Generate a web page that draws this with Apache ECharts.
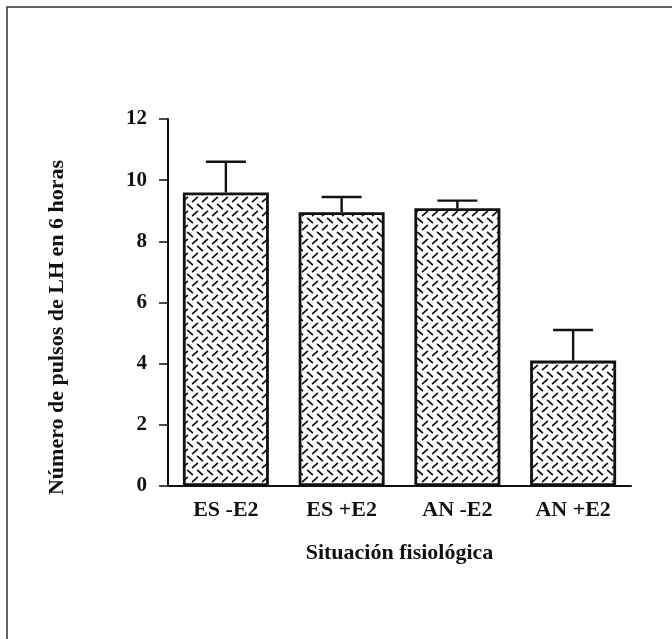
<!DOCTYPE html>
<html>
<head>
<meta charset="utf-8">
<script src="https://cdn.jsdelivr.net/npm/echarts@6/dist/echarts.min.js"></script>
<style>
html,body{margin:0;padding:0;background:#fff;}
#c{width:672px;height:639px;}
</style>
</head>
<body>
<div id="c"></div>
<script>
const categories = ['ES -E2', 'ES +E2', 'AN -E2', 'AN +E2'];
const means = [9.6, 8.95, 9.08, 4.1];
const errTops = [10.6, 9.45, 9.33, 5.1];
const yTicks = [0, 2, 4, 6, 8, 10, 12];

function makePattern() {
  const c = document.createElement('canvas');
  c.width = 20; c.height = 14;
  const g = c.getContext('2d');
  g.fillStyle = '#fff';
  g.fillRect(0, 0, 20, 14);
  g.strokeStyle = '#111';
  g.lineWidth = 1.8;
  g.lineCap = 'round';
  function dash(x, y, dir) {
    g.beginPath();
    if (dir > 0) { g.moveTo(x - 2.4, y + 2.1); g.lineTo(x + 2.4, y - 2.1); }
    else { g.moveTo(x - 2.4, y - 2.1); g.lineTo(x + 2.4, y + 2.1); }
    g.stroke();
  }
  dash(5, 3.5, 1); dash(15, 3.5, 1);
  dash(0, 10.5, -1); dash(10, 10.5, -1); dash(20, 10.5, -1);
  return c;
}

const font = '"Liberation Serif", "DejaVu Serif", serif';
const chart = echarts.init(document.getElementById('c'), null, {renderer: 'canvas'});
chart.setOption({
  backgroundColor: '#fff',
  animation: false,
  graphic: [{
    type: 'rect', shape: {x: 7, y: 7, width: 700, height: 700},
    style: {fill: 'none', stroke: '#333', lineWidth: 1.5}, z: 100
  }],
  grid: {left: 168, right: 41, top: 119, bottom: 153},
  xAxis: {
    type: 'category', data: categories,
    axisLine: {lineStyle: {color: '#111', width: 2}},
    axisTick: {show: false},
    axisLabel: {color: '#111', fontFamily: font, fontWeight: 'bold', fontSize: 22, margin: 13},
    name: 'Situación fisiológica', nameLocation: 'middle', nameGap: 56,
    nameTextStyle: {color: '#111', fontFamily: font, fontWeight: 'bold', fontSize: 22}
  },
  yAxis: {
    type: 'value', min: yTicks[0], max: yTicks[yTicks.length - 1], interval: 2,
    axisLine: {show: true, lineStyle: {color: '#111', width: 2}},
    axisTick: {show: true, length: 9, lineStyle: {color: '#111', width: 1.5}},
    splitLine: {show: false},
    axisLabel: {color: '#111', fontFamily: font, fontWeight: 'bold', fontSize: 21, margin: 21},
    name: 'Número de pulsos de LH en 6 horas', nameLocation: 'middle', nameGap: 100,
    nameTextStyle: {color: '#111', fontFamily: font, fontWeight: 'bold', fontSize: 22, padding: [0, 50, 0, 0]}
  },
  series: [{
    type: 'bar', data: means, barWidth: 86,
    itemStyle: {
      color: {image: makePattern(), repeat: 'repeat'},
      borderColor: '#111', borderWidth: 2.8
    },
    z: 2
  }, {
    type: 'custom',
    data: means.map((m, i) => [i, m, errTops[i]]),
    renderItem: function (params, api) {
      const p0 = api.coord([api.value(0), api.value(1)]);
      const p1 = api.coord([api.value(0), api.value(2)]);
      const hw = 20;
      return {
        type: 'group',
        children: [
          {type: 'line', shape: {x1: p0[0], y1: p0[1], x2: p1[0], y2: p1[1]}, style: {stroke: '#111', lineWidth: 2.4}},
          {type: 'line', shape: {x1: p1[0] - hw, y1: p1[1], x2: p1[0] + hw, y2: p1[1]}, style: {stroke: '#111', lineWidth: 2.4}}
        ]
      };
    },
    z: 3
  }]
});
</script>
</body>
</html>
